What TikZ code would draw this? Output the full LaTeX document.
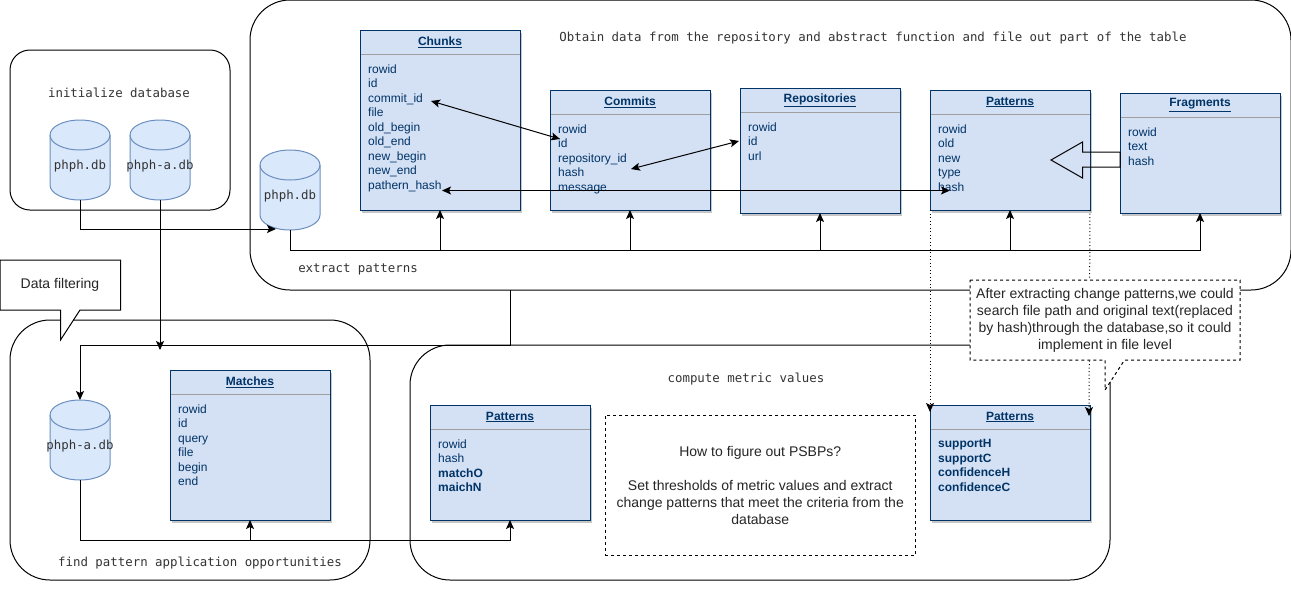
\documentclass[tikz,border=0pt]{standalone}
\usepackage{fontspec}
\setmainfont{Liberation Sans}
\newfontfamily\codefont{DejaVu Sans Mono}
\usetikzlibrary{arrows.meta,shadows}

\definecolor{tablefill}{HTML}{D4E1F5}
\definecolor{tableline}{HTML}{003366}
\definecolor{dbfill}{HTML}{DAE8FC}
\definecolor{dbline}{HTML}{6C8EBF}
\definecolor{codegray}{HTML}{333333}

\tikzset{
  >={Stealth[length=9pt,width=8pt,inset=2pt]},
  stagebox/.style={draw=black, line width=1pt, anchor=north west, inner sep=0pt, outer sep=0pt},
  stagetext/.style={text=codegray, font=\codefont\fontsize{12.4}{15}\selectfont},
  dbshape/.style={draw=dbline, fill=dbfill, line width=1pt},
  dbbody/.style={minimum width=60pt, minimum height=80pt, inner sep=0pt, outer sep=0pt},
  dbtbl/.style={draw=tableline, fill=tablefill, line width=1pt, anchor=north west, inner sep=0pt, outer sep=0pt,
    minimum width=160pt, drop shadow={shadow xshift=2pt, shadow yshift=-3pt, opacity=.45, fill=gray}},
  tbltitle/.style={text=tableline, font=\bfseries\fontsize{12}{14.5}\selectfont},
  tblrows/.style={text=tableline, anchor=north west, align=left, inner sep=0pt, font=\fontsize{12}{14.5}\selectfont},
  tblrule/.style={draw=gray!75, line width=1pt},
  notetext/.style={align=center, text=black!85, font=\fontsize{14}{17}\selectfont},
  linkline/.style={line width=1pt},
  dotline/.style={line width=1pt, dash pattern=on 1pt off 2.5pt, ->},
  noteline/.style={line width=1pt, dash pattern=on 3pt off 3pt, fill=white},
}

% name, x, y, height, title, rows
\newcommand{\dbtable}[6]{
  \node[dbtbl, minimum height=#4pt] (#1) at (#2,#3) {};
  \draw[tblrule] ([yshift=-24pt,xshift=.5pt]#1.north west) -- ([yshift=-24pt,xshift=-.5pt]#1.north east);
  \node[tbltitle] (#1title) at ([yshift=-12pt]#1.north) {\underline{#5}};
  \node[tblrows] (#1rows) at ([xshift=8pt,yshift=-34.5pt]#1.north west) {#6};
}

% name, x, y of the centre, text
\newcommand{\dbcylinder}[4]{
  \node[dbbody] (#1) at (#2,#3) {};
  \draw[dbshape] (#1.west) ++(0,-25) arc[start angle=180, end angle=0, x radius=30pt, y radius=15pt]
    -- ++(0,50) arc[start angle=0, end angle=-180, x radius=30pt, y radius=15pt] -- cycle;
  \draw[dbshape, fill=none] (#1.west) ++(0,-25) arc[start angle=180, end angle=360, x radius=30pt, y radius=15pt];
  \node[stagetext] (#1text) at ([yshift=-6pt]#1.center) {#4};
}

\begin{document}
\begin{tikzpicture}[x=1pt,y=-1pt]
\useasboundingbox (0,0) rectangle (1291,606);

% the stages
\node[stagebox, rounded corners=20pt, minimum width=220pt, minimum height=160pt] (initbox) at (10,50) {};
\node[stagebox, rounded corners=40pt, minimum width=1041pt, minimum height=290pt] (extractbox) at (250,0) {};
\node[stagebox, rounded corners=40pt, minimum width=360pt, minimum height=260pt] (findbox) at (10,320) {};
\draw[linkline, rounded corners=40pt] (1100,345) -- (410,345) -- (410,580) -- (1110,580) -- (1110,370);

\node[stagetext] (inittext) at (119,93) {initialize database};
\node[stagetext] (extracttext) at (873,38) {Obtain data from the repository and abstract function and file out part of the table};
\node[stagetext] (patternstext) at (358,269) {extract patterns};
\node[stagetext] (metrictext) at (746,379) {compute metric values};
\node[stagetext] (findtext) at (200,563) {find pattern application opportunities};

% databases
\dbcylinder{dbmain}{80}{160}{phph.db}
\dbcylinder{dbaux}{160}{160}{phph-a.db}
\dbcylinder{dbextract}{290}{190}{phph.db}
\dbcylinder{dbmatch}{80}{440}{phph-a.db}

% tables
\dbtable{chunks}{360}{30}{180}{Chunks}{rowid\\id\\commit\_id\\file\\old\_begin\\old\_end\\new\_begin\\new\_end\\pathern\_hash}
\dbtable{commits}{550}{90}{120}{Commits}{rowid\\id\\repository\_id\\hash\\message}
\dbtable{repos}{740}{88}{125}{Repositories}{rowid\\id\\url}
\dbtable{patterns}{930}{90}{120}{Patterns}{rowid\\old\\new\\type\\hash}
\dbtable{fragments}{1120}{93}{120}{Fragments}{rowid\\text\\hash}
\dbtable{matches}{170}{370}{150}{Matches}{rowid\\id\\query\\file\\begin\\end}
\dbtable{patternsm}{430}{405}{115}{Patterns}{rowid\\hash\\\textbf{matchO}\\\textbf{maichN}}
\dbtable{patternsc}{930}{405}{115}{Patterns}{\textbf{supportH}\\\textbf{supportC}\\\textbf{confidenceH}\\\textbf{confidenceC}}

% free ends and junctions
\coordinate (trunk) at (290,250);
\coordinate (feed) at (276,229);
\coordinate (bridge) at (510,345);
\coordinate (filter) at (160,350);
\coordinate (lower) at (80,540);
\coordinate (commitidend) at (431,101);
\coordinate (idend) at (560,139);
\coordinate (hashend) at (631,169);
\coordinate (repoend) at (739,141);
\coordinate (chunkhash) at (442,190.5);
\coordinate (patternhash) at (950,190.5);
\coordinate (tipleft) at (930,412);
\coordinate (tipright) at (1089,416);

% connectors
\draw[linkline,->] (dbmain.south) |- (feed);
\draw[linkline,->] (dbaux.south) -- (filter);
\draw[linkline,->] (dbextract.south) |- (trunk -| fragments.south) -- (fragments.south);
\draw[linkline,->] (trunk -| chunks.south) -- (chunks.south);
\draw[linkline,->] (trunk -| commits.south) -- (commits.south);
\draw[linkline,->] (trunk -| repos.south) -- (repos.south);
\draw[linkline,->] (trunk -| patterns.south) -- (patterns.south);
\draw[linkline,<->] (commitidend) -- (idend);
\draw[linkline,<->] (hashend) -- (repoend);
\draw[linkline,<->] (chunkhash) -- (patternhash);
\draw[linkline,->] (bridge |- extractbox.south) -- (bridge) -| (dbmatch.north);
\draw[linkline,->] (dbmatch.south) |- (lower -| patternsm.south) -- (patternsm.south);
\draw[linkline,->] (lower -| matches.south) -- (matches.south);
\draw[dotline] (patterns.south west) -- (tipleft);
\draw[dotline] (patterns.south east) -- (tipright);

% hollow arrow from fragments to patterns
\draw[linkline] (fragments.west |- 0,152) -- (1082.5,152) -- (1082.5,142) -- (1051,160) -- (1082.5,178) -- (1082.5,167) -- (fragments.west |- 0,167) -- cycle;

% notes
\draw[linkline, fill=white] (0,260) -- (120.5,260) -- (120.5,310) -- (80,310) -- (60.5,340) -- (60.5,310) -- (0,310) -- cycle;
\node[notetext] (filternote) at (60,285) {Data filtering};
\draw[noteline] (970,280) -- (1240,280) -- (1240,360) -- (1124.5,360) -- (1105,390) -- (1105,360) -- (970,360) -- cycle;
\node[notetext] (hashnote) at (1105,320) {After extracting change patterns,we could\\search file path and original text(replaced\\by hash)through the database,so it could\\implement in file level};
\node[noteline, draw, minimum width=310.5pt, minimum height=140pt, anchor=north west, outer sep=0pt] (psbpbox) at (605,415) {};
\node[notetext] (psbpnote) at (psbpbox.center) {How to figure out PSBPs?\\\mbox{}\\Set thresholds of metric values and extract\\change patterns that meet the criteria from the\\database};
\end{tikzpicture}
\end{document}
